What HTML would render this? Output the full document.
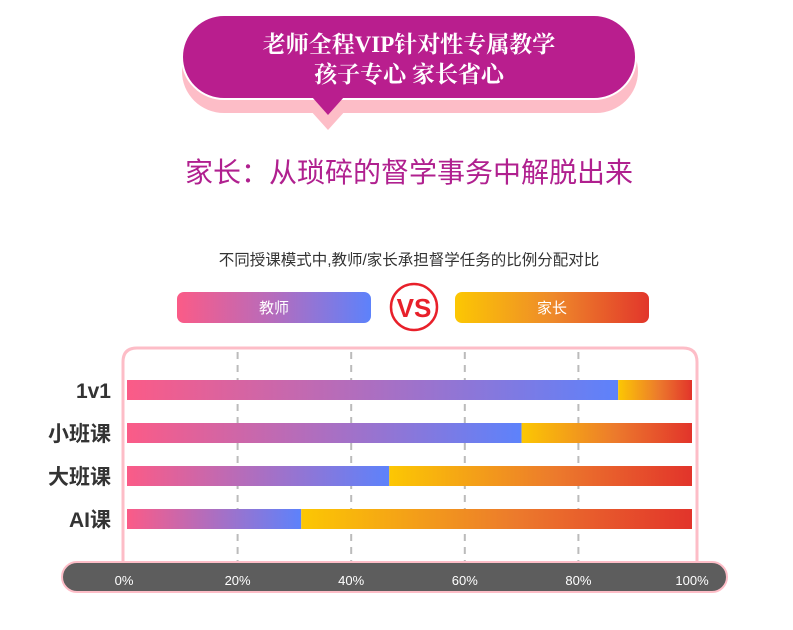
<!DOCTYPE html>
<html><head><meta charset="utf-8">
<style>
html,body{margin:0;padding:0;background:#fff;width:793px;height:630px;overflow:hidden}
svg{display:block}
text{font-family:"Liberation Sans","Noto Sans CJK SC",sans-serif}
.serif{font-family:"Liberation Serif","Noto Serif CJK SC",serif}
</style></head><body>
<svg id="chart" width="793" height="630" viewBox="0 0 793 630">
<defs>
<linearGradient id="gT" x1="0" x2="1" y1="0" y2="0"><stop offset="0" stop-color="#fb5b87"/><stop offset="0.5" stop-color="#b56cbd"/><stop offset="1" stop-color="#5d82fb"/></linearGradient>
<linearGradient id="gP" x1="0" x2="1" y1="0" y2="0"><stop offset="0" stop-color="#fcc703"/><stop offset="0.5" stop-color="#ee8a2a"/><stop offset="1" stop-color="#e2362b"/></linearGradient>
</defs>
<g>
<rect x="182" y="30" width="456" height="83" rx="42" fill="#fdbdc7"/>
<path d="M310 110 L328 130 L346 110 Z" fill="#fdbdc7"/>
<rect x="182" y="15" width="454" height="84" rx="42" fill="#b91e8e" stroke="#fff" stroke-width="2"/>
<path d="M312 97 L328 115 L344 97 Z" fill="#b91e8e"/>
<text class="serif" x="409" y="52" font-size="23" font-weight="bold" fill="#fff" text-anchor="middle">老师全程VIP针对性专属教学</text>
<text class="serif" x="409" y="82" font-size="23" font-weight="bold" fill="#fff" text-anchor="middle">孩子专心 家长省心</text>
</g>
<text x="409" y="182" font-size="28" fill="#b0208f" text-anchor="middle">家长：从琐碎的督学事务中解脱出来</text>
<text x="409" y="265" font-size="15.5" fill="#333" text-anchor="middle">不同授课模式中,教师/家长承担督学任务的比例分配对比</text>
<g>
<rect x="177" y="292" width="194" height="31" rx="7" fill="url(#gT)"/>
<text x="274" y="313" font-size="15" fill="#fff" text-anchor="middle">教师</text>
<circle cx="414" cy="307" r="23" fill="#fff" stroke="#e8202a" stroke-width="2.5"/>
<text x="414" y="317" font-size="26" font-weight="bold" fill="#e8202a" text-anchor="middle">VS</text>
<rect x="455" y="292" width="194" height="31" rx="7" fill="url(#gP)"/>
<text x="552" y="313" font-size="15" fill="#fff" text-anchor="middle">家长</text>
</g>
<path d="M123 565 L123 362 Q123 348 137 348 L683 348 Q697 348 697 362 L697 565" fill="#fff" stroke="#fdbdc7" stroke-width="3"/>
<g id="grid"></g>
<g id="bars"></g>
<g id="ylabels"></g>
<rect x="62" y="562" width="665" height="30" rx="15" fill="#5d5d5d" stroke="#fdbdc7" stroke-width="2"/>
<g id="xlabels"></g>
</svg>
<script>
const categories = ["1v1","小班课","大班课","AI课"];
const teacherValues = [87, 70, 46.7, 31.2];
const tickValues = [0,20,40,60,80,100];
const tickLabels = ["0%","20%","40%","60%","80%","100%"];
const NS="http://www.w3.org/2000/svg";
const x0=124, x1=692, barStart=127;
const xs=v=>x0+(x1-x0)*v/100;
const yRow=i=>380+i*43;
function mk(tag,attrs,parent){const e=document.createElementNS(NS,tag);for(const k in attrs)e.setAttribute(k,attrs[k]);parent.appendChild(e);return e;}
const grid=document.getElementById('grid'),bars=document.getElementById('bars'),yl=document.getElementById('ylabels'),xl=document.getElementById('xlabels');
tickValues.forEach((t,i)=>{
  if(t>0&&t<100){const l=mk('line',{x1:xs(t),x2:xs(t),y1:352,y2:562,stroke:'#bbb','stroke-width':2,'stroke-dasharray':'7,6'},grid);
  
  }
  const tx=mk('text',{x:xs(t),y:585,'font-size':13,fill:'#fff','text-anchor':'middle'},xl);
  tx.textContent=tickLabels[i];
  
  
});
categories.forEach((c,i)=>{
  const y=yRow(i), tv=teacherValues[i];
  const gT=mk('linearGradient',{id:'bt'+i,gradientUnits:'userSpaceOnUse',x1:barStart,x2:xs(tv),y1:0,y2:0},document.querySelector('defs'));
  mk('stop',{offset:0,'stop-color':'#fb5b87'},gT);mk('stop',{offset:1,'stop-color':'#5d82fb'},gT);
  const gP=mk('linearGradient',{id:'bp'+i,gradientUnits:'userSpaceOnUse',x1:xs(tv),x2:xs(100),y1:0,y2:0},document.querySelector('defs'));
  mk('stop',{offset:0,'stop-color':'#fcc703'},gP);mk('stop',{offset:0.55,'stop-color':'#ec7a2c'},gP);mk('stop',{offset:1,'stop-color':'#e2342b'},gP);
  const a=mk('rect',{x:barStart,y:y,width:Math.max(0,xs(tv)-barStart),height:20,fill:'url(#bt'+i+')'},bars);
  
  
  const b=mk('rect',{x:xs(tv),y:y,width:xs(100)-xs(tv),height:20,fill:'url(#bp'+i+')'},bars);
  
  
  const t=mk('text',{x:111,y:y+18,'font-size':21,'font-weight':'bold',fill:'#333','text-anchor':'end'},yl);
  t.textContent=c;
  
  
});
</script>
</body></html>
